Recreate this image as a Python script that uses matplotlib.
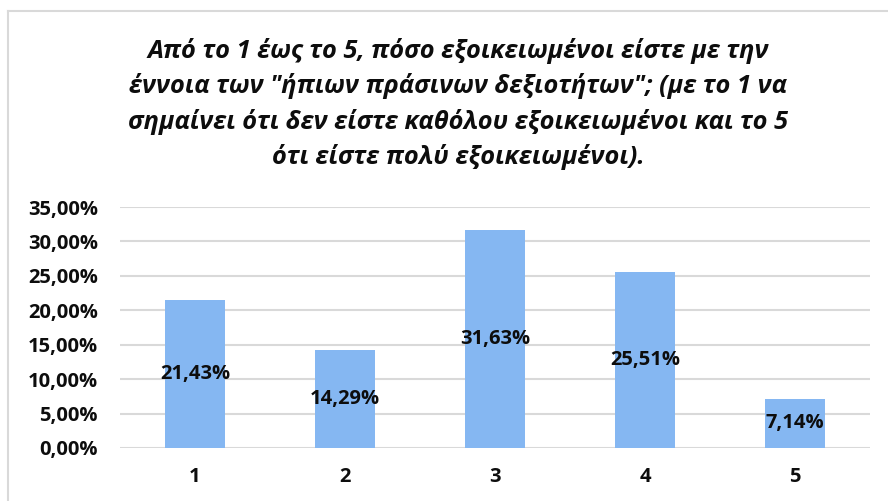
import numpy as np
import matplotlib
matplotlib.use('Agg')
import matplotlib.pyplot as plt
from matplotlib.lines import Line2D
from matplotlib.ticker import FuncFormatter

plt.rcParams['font.family'] = ['Open Sans', 'Liberation Sans', 'DejaVu Sans']

# Data
categories = ['1', '2', '3', '4', '5']
shares = [21.43, 14.29, 31.63, 25.51, 7.14]   # percent
yticks = [0, 5, 10, 15, 20, 25, 30, 35]

title = ('Από το 1 έως το 5, πόσο εξοικειωμένοι είστε με την\n'
         'έννοια των "ήπιων πράσινων δεξιοτήτων"; (με το 1 να\n'
         'σημαίνει ότι δεν είστε καθόλου εξοικειωμένοι και το 5\n'
         'ότι είστε πολύ εξοικειωμένοι).')

bar_color = '#85B7F2'
text_color = '#0D0D0D'

def pct(v, pos=None):
    return f'{v:.2f}'.replace('.', ',') + '%'

fig = plt.figure(figsize=(8.88, 5.01), dpi=100)
ax = fig.add_axes([120/888, 53/501, 750/888, 241/501])

x = np.arange(len(categories))
bars = ax.bar(x, shares, width=0.4, color=bar_color, zorder=3)

for b, v in zip(bars, shares):
    ax.text(b.get_x() + b.get_width()/2, v/2, pct(v), ha='center', va='center',
            fontsize=14.5, fontweight='bold', color=text_color, zorder=4)

ax.set_xlim(-0.5, len(categories) - 0.5)
ax.set_ylim(0, 35)
ax.set_yticks(yticks)
ax.yaxis.set_major_formatter(FuncFormatter(pct))
ax.set_xticks(x)
ax.set_xticklabels(categories)
ax.grid(axis='y', color='#D9D9D9', linewidth=1.5, zorder=0)
for s in ax.spines.values():
    s.set_visible(False)
ax.tick_params(length=0, labelsize=14.5, colors=text_color)
ax.tick_params(axis='y', pad=16)
ax.tick_params(axis='x', pad=14)
for lbl in ax.get_xticklabels() + ax.get_yticklabels():
    lbl.set_fontweight('bold')

fig.text(458/888, 1 - 104/501, title, ha='center', va='center', fontsize=18.3,
         fontweight='bold', fontstyle='italic', color=text_color, linespacing=1.48)

# chart border (top and left only visible)
fig.add_artist(Line2D([8/888, 1], [1 - 11/501, 1 - 11/501], color='#D9D9D9', linewidth=1.5))
fig.add_artist(Line2D([8/888, 8/888], [0, 1 - 11/501], color='#D9D9D9', linewidth=1.5))

fig.savefig('out.png', dpi=100)
